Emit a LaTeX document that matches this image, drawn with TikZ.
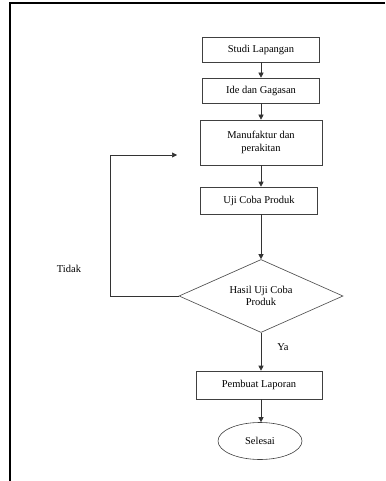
\documentclass[tikz,border=0pt]{standalone}
\usepackage{fontspec}
\setmainfont{Liberation Serif}
\usetikzlibrary{shapes.geometric,arrows.meta}
\tikzset{
    kotak/.style={draw=black!75, line width=0.6pt, minimum width=117pt, minimum height=25pt, inner sep=2pt, align=center, font=\fontsize{10.5}{12.5}\selectfont},
    keputusan/.style={draw=black!75, line width=0.6pt, diamond, aspect=2.25, minimum width=164pt, minimum height=73pt, inner sep=0pt, align=center, font=\fontsize{10.5}{12.5}\selectfont},
    akhir/.style={draw=black!75, line width=0.6pt, ellipse, minimum width=84pt, minimum height=37pt, inner sep=0pt, font=\fontsize{10.5}{12.5}\selectfont},
    panah/.style={draw=black!80, line width=0.6pt, -{Triangle[length=5pt,width=5pt]}},
    teks/.style={font=\fontsize{10.5}{12.5}\selectfont}
}
\begin{document}
\begin{tikzpicture}[x=1pt,y=-1pt]
        \useasboundingbox (0,0) rectangle (385,481);
        \draw[line width=2pt] (385,3) -- (10,3) -- (10,481);
        \node[kotak] (studi) at (261,49.5) {Studi Lapangan};
        \node[kotak] (ide) at (261,90.5) {Ide dan Gagasan};
        \node[kotak, minimum width=122pt, minimum height=45pt] (manuf) at (261,142.5) {Manufaktur dan\\perakitan};
        \node[kotak, minimum height=27pt] (uji) at (259,200.5) {Uji Coba Produk};
        \node[keputusan] (hasil) at (261,296) {Hasil Uji Coba\\Produk};
        \node[kotak, minimum width=126pt, minimum height=28pt] (laporan) at (259,385) {Pembuat Laporan};
        \node[akhir] (selesai) at (260,441) {Selesai};
        \node[teks] (tidak) at (69,269) {Tidak};
        \node[teks] (ya) at (283,347) {Ya};
        \coordinate (kiri) at (110,155);
        \coordinate (balik) at (177,155);
        \draw[panah] (studi) -- (ide);
        \draw[panah] (ide) -- (manuf);
        \draw[panah] (manuf) -- (manuf.south |- uji.north);
        \draw[panah] (uji.south -| hasil.north) -- (hasil.north);
        \draw[panah] (hasil.south) -- (hasil.south |- laporan.north);
        \draw[panah] (laporan.south -| hasil.south) -- (hasil.south |- selesai.north);
        \draw[panah] (hasil.west) -| (kiri) -- (balik);
    \end{tikzpicture}
\end{document}
